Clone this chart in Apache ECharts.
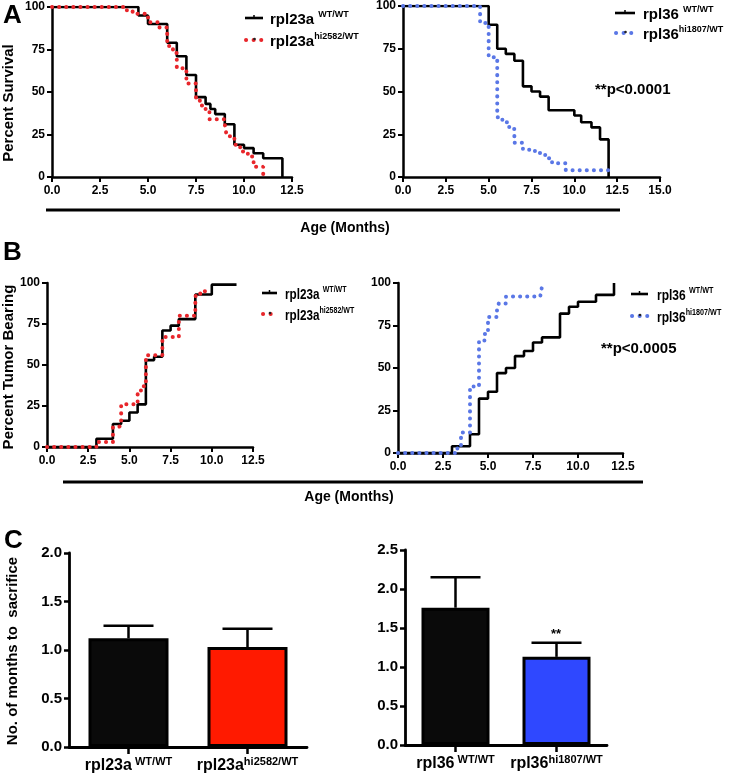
<!DOCTYPE html>
<html><head><meta charset="utf-8">
<script src="https://cdn.jsdelivr.net/npm/echarts@6/dist/echarts.min.js"></script>
<style>html,body{margin:0;padding:0;background:#fff}#c{width:731px;height:783px}</style>
</head><body><div id="c"></div>
<script>
// ---------- DATA ----------
// Panel A: survival (age in months, percent survival)
const survRpl23aWT     = [[0,100],[4.5,95],[5.0,90],[6.0,79],[6.5,71],[7.0,60],[7.5,47],[8.0,43],[8.25,40],[8.5,37],[9.0,31],[9.5,19],[10.0,17],[10.5,14],[11.0,11],[12.0,0]];
const survRpl23aHi2582 = [[0,100],[3.9,98],[4.2,96],[5.0,91],[5.6,88],[6.0,77],[6.3,73],[6.5,64],[7.0,55],[7.5,45],[7.7,42],[8.0,39],[8.2,34],[9.0,31],[9.1,24],[9.5,19],[9.8,15],[10.2,12],[10.5,6],[11.0,0]];
const survRpl36WT      = [[0,100],[5.0,89],[5.5,75],[6.0,72],[6.5,68],[7.0,53],[7.5,50],[8.0,47],[8.5,39],[10.0,36],[10.4,32],[11.0,29],[11.5,22],[12.0,0]];
const survRpl36Hi1807  = [[0,100],[4.5,90],[5.0,70],[5.5,35],[5.8,32],[6.2,28],[6.5,20],[7.0,16],[7.7,14],[8.3,11],[8.7,8],[9.5,4],[12.0,4]];
// Panel B: tumor bearing (age in months, percent tumor bearing)
const tumRpl23aWT      = [[0,0],[3.0,5],[4.0,14],[4.5,16],[5.0,21],[5.5,26],[6.0,53],[6.5,55],[7.0,71],[7.5,74],[8.0,78],[9.0,93],[10.0,99],[11.5,99]];
const tumRpl23aHi2582  = [[0,0],[3.0,3],[4.0,12],[4.3,13],[4.5,26],[5.5,34],[5.7,37],[6.0,56],[7.0,67],[8.0,80],[9.0,92],[9.3,95],[9.7,97]];
const tumRpl36WT       = [[0,0],[3.0,4],[4.0,11],[4.5,32],[5.0,36],[5.5,47],[6.0,50],[6.5,57],[7.0,60],[7.5,65],[8.0,68],[9.0,82],[9.5,86],[10.0,89],[11.0,93],[12.0,100]];
const tumRpl36Hi1807   = [[0,0],[3.3,3],[3.5,12],[4.0,38],[4.2,40],[4.5,66],[4.8,70],[5.0,80],[5.5,84],[5.6,88],[6.0,92],[7.9,93],[8.0,98]];
// Panel C: months to sacrifice (mean, SEM)
const barGenesL   = ['rpl23a', 'rpl23a'];
const barAllelesL = [' WT/WT', 'hi2582/WT'];
const sacrificeL  = [1.12, 1.03];
const sacErrL     = [0.13, 0.19];
const barGenesR   = ['rpl36', 'rpl36'];
const barAllelesR = [' WT/WT', 'hi1807/WT'];
const sacrificeR  = [1.76, 1.13];
const sacErrR     = [0.39, 0.18];
const kmPercentTicks = [0, 25, 50, 75, 100];

// ---------- STYLE ----------
const FONT = '"Liberation Sans", Arial, Helvetica, sans-serif';
const NARROW = '"Liberation Sans Narrow", "Liberation Sans", Arial, sans-serif';
const RED_DOT = '#e8262b', BLUE_DOT = '#5a77e6';
const RED_BAR = '#ff1a00', BLUE_BAR = '#2f48ff', BLACK = '#0a0a0a';

const chart = echarts.init(document.getElementById('c'));

function kmX(gi, max, narrow) {
  return { type: 'value', gridIndex: gi, min: 0, max: max, interval: 2.5,
    axisLine: { show: true, onZero: false, lineStyle: { color: '#000', width: 2.5 } },
    axisTick: { show: true, length: 5, lineStyle: { color: '#000', width: 2 } },
    splitLine: { show: false },
    axisLabel: { formatter: v => v.toFixed(1), color: '#000', fontWeight: 'bold',
      fontSize: narrow ? 12 : 12, fontFamily: narrow ? NARROW : FONT, margin: 8 } };
}
function kmY(gi, narrow) {
  return { type: 'value', gridIndex: gi, min: kmPercentTicks[0], max: kmPercentTicks[kmPercentTicks.length - 1], interval: 25,
    axisLine: { show: true, onZero: false, lineStyle: { color: '#000', width: 2.5 } },
    axisTick: { show: true, length: 5, lineStyle: { color: '#000', width: 2 } },
    splitLine: { show: false },
    axisLabel: { color: '#000', fontWeight: 'bold', fontSize: 12,
      fontFamily: narrow ? NARROW : FONT, margin: 7 } };
}
function solid(gi, data) {
  return { type: 'line', xAxisIndex: gi, yAxisIndex: gi, data: data, step: 'end', symbol: 'none',
    lineStyle: { color: '#000', width: 2.6 }, z: 3 };
}
function dotted(gi, data, color) {
  return { type: 'line', xAxisIndex: gi, yAxisIndex: gi, data: data, step: 'end', symbol: 'none',
    lineStyle: { color: color, width: 4, type: [0.1, 7], cap: 'round' }, z: 4 };
}
function barX(gi, genes, alleles) {
  return { type: 'category', gridIndex: gi, data: genes.map((g, i) => g + alleles[i]),
    axisLine: { show: true, lineStyle: { color: '#000', width: 2.8 } },
    axisTick: { show: true, alignWithLabel: true, length: 7, lineStyle: { color: '#000', width: 2.5 } },
    axisLabel: { margin: 9, interval: 0,
      formatter: (v, i) => '{m|' + genes[i] + '}{s|' + alleles[i] + '}',
      rich: { m: { fontSize: 16, fontWeight: 'bold', fontFamily: FONT, color: '#000', lineHeight: 20 },
              s: { fontSize: 11, fontWeight: 'bold', fontFamily: FONT, color: '#000', verticalAlign: 'top', lineHeight: 20 } } } };
}
function barY(gi, max) {
  return { type: 'value', gridIndex: gi, min: 0, max: max, interval: 0.5,
    axisLine: { show: true, lineStyle: { color: '#000', width: 2.8 } },
    axisTick: { show: true, length: 5, lineStyle: { color: '#000', width: 2.5 } },
    splitLine: { show: false },
    axisLabel: { formatter: v => v.toFixed(1), color: '#000', fontWeight: 'bold', fontSize: 15, fontFamily: FONT, margin: 7 } };
}
function bars(gi, values, colors, width) {
  return { type: 'bar', xAxisIndex: gi, yAxisIndex: gi, barWidth: width,
    data: values.map((v, i) => ({ value: v, itemStyle: { color: colors[i] } })),
    itemStyle: { borderColor: '#000', borderWidth: 3 }, z: 2 };
}
function errBars(gi, values, errs) {
  return { type: 'custom', xAxisIndex: gi, yAxisIndex: gi, z: 1,
    data: values.map((v, i) => [i, v, v + errs[i]]),
    renderItem: (params, api) => {
      const top = api.coord([api.value(0), api.value(1)]);
      const hi = api.coord([api.value(0), api.value(2)]);
      const st = { stroke: '#000', lineWidth: 2.5 };
      return { type: 'group', children: [
        { type: 'line', shape: { x1: top[0], y1: top[1], x2: hi[0], y2: hi[1] }, style: st },
        { type: 'line', shape: { x1: hi[0] - 25, y1: hi[1], x2: hi[0] + 25, y2: hi[1] }, style: st } ] };
    } };
}

// graphic helpers
function txt(x, y, text, size, align) {
  return { type: 'text', x: x, y: y, silent: true,
    style: { text: text, fill: '#000', font: 'bold ' + size + 'px ' + FONT, align: align || 'left', verticalAlign: 'middle' } };
}
function rot(x, y, text, size) {
  return { type: 'text', x: x, y: y, rotation: Math.PI / 2, silent: true,
    style: { text: text, fill: '#000', font: 'bold ' + size + 'px ' + FONT, align: 'center', verticalAlign: 'middle' } };
}
function supText(x, y, gene, allele, mainSize, supSize, sx) {
  return { type: 'text', x: x, y: y, silent: true, scaleX: sx || 1,
    style: { text: '{m|' + gene + '}{s|' + allele + '}', verticalAlign: 'middle', align: 'left',
      rich: { m: { fontSize: mainSize, fontWeight: 'bold', fontFamily: FONT, fill: '#000', lineHeight: mainSize + 4 },
              s: { fontSize: supSize, fontWeight: 'bold', fontFamily: FONT, fill: '#000', verticalAlign: 'top', lineHeight: mainSize + 4 } } } };
}
function legLine(x1, x2, y) {
  return [
    { type: 'line', silent: true, shape: { x1: x1, y1: y, x2: x2, y2: y }, style: { stroke: '#000', lineWidth: 2.6 } },
    { type: 'line', silent: true, shape: { x1: (x1 + x2) / 2, y1: y - 3, x2: (x1 + x2) / 2, y2: y }, style: { stroke: '#000', lineWidth: 1.5 } } ];
}
function legDots(x1, x2, y, color) {
  return [
    { type: 'line', silent: true, shape: { x1: x1, y1: y, x2: x2, y2: y }, style: { stroke: color, lineWidth: 4, lineDash: [0.1, 7.5], lineCap: 'round' } },
    { type: 'circle', silent: true, shape: { cx: (x1 + x2) / 2, cy: y - 1, r: 1.3 }, style: { fill: '#222' } } ];
}

const graphics = [].concat(
  txt(3, 16, 'A', 26), txt(3, 253, 'B', 26), txt(4, 541, 'C', 26),
  rot(9, 103, 'Percent Survival', 15),
  rot(9, 367, 'Percent Tumor Bearing', 15),
  rot(13, 651, 'No. of months to  sacrifice', 15),
  // legends A
  legLine(245, 263, 18), supText(270, 20, 'rpl23a ', 'WT/WT', 15, 9),
  legDots(246, 263, 40, RED_DOT), supText(270, 42, 'rpl23a', 'hi2582/WT', 15, 9),
  legLine(615, 635, 13), supText(643, 15, 'rpl36 ', 'WT/WT', 15, 9),
  legDots(616, 635, 33, BLUE_DOT), supText(643, 35, 'rpl36', 'hi1807/WT', 15, 9),
  txt(595, 90, '**p<0.0001', 15),
  // separator + x title A
  { type: 'rect', silent: true, shape: { x: 46, y: 208.5, width: 574, height: 3 }, style: { fill: '#000' } },
  txt(345, 228, 'Age (Months)', 14, 'center'),
  // legends B (condensed lettering)
  legLine(262, 277, 293), supText(285, 295, 'rpl23a ', 'WT/WT', 15, 9, 0.78),
  legDots(263, 277, 314, RED_DOT), supText(285, 316, 'rpl23a', 'hi2582/WT', 15, 9, 0.78),
  legLine(631, 648, 294), supText(657, 296, 'rpl36 ', 'WT/WT', 15, 9, 0.8),
  legDots(632, 648, 316, BLUE_DOT), supText(657, 318, 'rpl36', 'hi1807/WT', 15, 9, 0.8),
  txt(601, 349, '**p<0.0005', 15),
  { type: 'rect', silent: true, shape: { x: 63, y: 480.5, width: 580, height: 3 }, style: { fill: '#000' } },
  txt(349, 497, 'Age (Months)', 14, 'center'),
  // significance mark C
  txt(556, 634, '**', 13, 'center')
);

chart.setOption({
  animation: false,
  backgroundColor: '#fff',
  grid: [
    { left: 52, top: 7, width: 240, height: 170 },
    { left: 403, top: 6, width: 257, height: 171 },
    { left: 47, top: 283, width: 206, height: 164 },
    { left: 398, top: 283, width: 225, height: 170 },
    { left: 69, top: 553, width: 238, height: 194 },
    { left: 405, top: 550, width: 202, height: 195 }
  ],
  xAxis: [ kmX(0, 12.5, false), kmX(1, 15, false), kmX(2, 12.5, true), kmX(3, 12.5, true),
           barX(4, barGenesL, barAllelesL), barX(5, barGenesR, barAllelesR) ],
  yAxis: [ kmY(0, false), kmY(1, false), kmY(2, true), kmY(3, true), barY(4, 2), barY(5, 2.5) ],
  series: [
    solid(0, survRpl23aWT), dotted(0, survRpl23aHi2582, RED_DOT),
    solid(1, survRpl36WT), dotted(1, survRpl36Hi1807, BLUE_DOT),
    solid(2, tumRpl23aWT), dotted(2, tumRpl23aHi2582, RED_DOT),
    solid(3, tumRpl36WT), dotted(3, tumRpl36Hi1807, BLUE_DOT),
    bars(4, sacrificeL, [BLACK, RED_BAR], 80), errBars(4, sacrificeL, sacErrL),
    bars(5, sacrificeR, [BLACK, BLUE_BAR], 68), errBars(5, sacrificeR, sacErrR)
  ],
  graphic: graphics
});
</script>
</body></html>
